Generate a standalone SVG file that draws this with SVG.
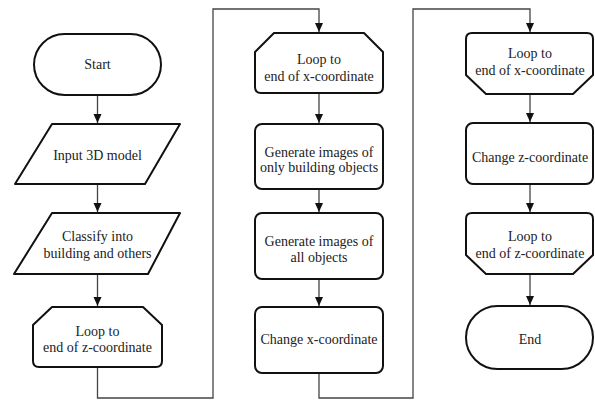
<svg xmlns="http://www.w3.org/2000/svg" width="595" height="401" viewBox="0 0 595 401">
<defs>
<marker id="arr" markerWidth="10" markerHeight="10" refX="9" refY="5" orient="auto" markerUnits="userSpaceOnUse">
<path d="M0,1 L9,5 L0,9 Z" fill="#111"/>
</marker>
<style>
.n{fill:#fff;stroke:#111;stroke-width:2;stroke-linejoin:round}
.c{fill:none;stroke:#444;stroke-width:1.3}
</style>
</defs>
<rect width="595" height="401" fill="#fff"/>
<g id="connectors">
<line class="c" x1="97.5" y1="95" x2="97.5" y2="123" marker-end="url(#arr)"/>
<line class="c" x1="97.5" y1="184" x2="97.5" y2="212" marker-end="url(#arr)"/>
<line class="c" x1="97.5" y1="274" x2="97.5" y2="306" marker-end="url(#arr)"/>
<polyline class="c" points="97.5,367 97.5,398 213,398 213,9 319,9 319,32" marker-end="url(#arr)"/>
<line class="c" x1="319" y1="93" x2="319" y2="123" marker-end="url(#arr)"/>
<line class="c" x1="319" y1="189" x2="319" y2="212" marker-end="url(#arr)"/>
<line class="c" x1="319" y1="279" x2="319" y2="306" marker-end="url(#arr)"/>
<polyline class="c" points="319,373 319,398 413,398 413,9 530,9 530,32" marker-end="url(#arr)"/>
<line class="c" x1="530" y1="94" x2="530" y2="122" marker-end="url(#arr)"/>
<line class="c" x1="530" y1="184" x2="530" y2="212" marker-end="url(#arr)"/>
<line class="c" x1="530" y1="274" x2="530" y2="305" marker-end="url(#arr)"/>
</g>
<g id="start">
<rect class="n" x="34" y="34" width="127" height="61" rx="30.5"/>
<text x="97.5" y="69" font-family="Liberation Serif" font-size="14" fill="#222" text-anchor="middle">Start</text>
</g>
<g id="input">
<path class="n" d="M52,124 L180,124 L145,184 L15,184 Z"/>
<text x="97.5" y="160" font-family="Liberation Serif" font-size="14" fill="#222" text-anchor="middle">Input 3D model</text>
</g>
<g id="classify">
<path class="n" d="M52,213 L180,213 L148,274 L14,274 Z"/>
<text x="97.5" y="241" font-family="Liberation Serif" font-size="14" fill="#222" text-anchor="middle">Classify into</text>
<text x="97.5" y="258" font-family="Liberation Serif" font-size="14" fill="#222" text-anchor="middle">building and others</text>
</g>
<g id="loopz1">
<path class="n" d="M52,307 L143,307 L162,325 L162,361 Q162,367 156,367 L39,367 Q33,367 33,361 L33,325 Z"/>
<text x="97.5" y="336" font-family="Liberation Serif" font-size="14" fill="#222" text-anchor="middle">Loop to</text>
<text x="97.5" y="352" font-family="Liberation Serif" font-size="14" fill="#222" text-anchor="middle">end of z-coordinate</text>
</g>
<g id="loopx1">
<path class="n" d="M274,33 L364,33 L383,52 L383,87 Q383,93 377,93 L261,93 Q255,93 255,87 L255,52 Z"/>
<text x="319" y="64" font-family="Liberation Serif" font-size="14" fill="#222" text-anchor="middle">Loop to</text>
<text x="319" y="81" font-family="Liberation Serif" font-size="14" fill="#222" text-anchor="middle">end of x-coordinate</text>
</g>
<g id="genbuild">
<rect class="n" x="255" y="124" width="128" height="65" rx="7"/>
<text x="319" y="157" font-family="Liberation Serif" font-size="14" fill="#222" text-anchor="middle">Generate images of</text>
<text x="319" y="172" font-family="Liberation Serif" font-size="14" fill="#222" text-anchor="middle">only building objects</text>
</g>
<g id="genall">
<rect class="n" x="255" y="213" width="128" height="66" rx="7"/>
<text x="319" y="246" font-family="Liberation Serif" font-size="14" fill="#222" text-anchor="middle">Generate images of</text>
<text x="319" y="262" font-family="Liberation Serif" font-size="14" fill="#222" text-anchor="middle">all objects</text>
</g>
<g id="changex">
<rect class="n" x="255" y="307" width="128" height="66" rx="7"/>
<text x="319" y="344" font-family="Liberation Serif" font-size="14" fill="#222" text-anchor="middle">Change x-coordinate</text>
</g>
<g id="loopx2">
<path class="n" d="M472,33 L587,33 Q593,33 593,39 L593,75 L573,94 L486,94 L466,75 L466,39 Q466,33 472,33 Z"/>
<text x="530" y="58" font-family="Liberation Serif" font-size="14" fill="#222" text-anchor="middle">Loop to</text>
<text x="530" y="75" font-family="Liberation Serif" font-size="14" fill="#222" text-anchor="middle">end of x-coordinate</text>
</g>
<g id="changez">
<rect class="n" x="466" y="123" width="127" height="61" rx="7"/>
<text x="530" y="162" font-family="Liberation Serif" font-size="14" fill="#222" text-anchor="middle">Change z-coordinate</text>
</g>
<g id="loopz2">
<path class="n" d="M472,213 L587,213 Q593,213 593,219 L593,255 L573,274 L486,274 L466,255 L466,219 Q466,213 472,213 Z"/>
<text x="530" y="241" font-family="Liberation Serif" font-size="14" fill="#222" text-anchor="middle">Loop to</text>
<text x="530" y="258" font-family="Liberation Serif" font-size="14" fill="#222" text-anchor="middle">end of z-coordinate</text>
</g>
<g id="end">
<rect class="n" x="466" y="306" width="127" height="63" rx="31.5"/>
<text x="530" y="344" font-family="Liberation Serif" font-size="14" fill="#222" text-anchor="middle">End</text>
</g>
</svg>
